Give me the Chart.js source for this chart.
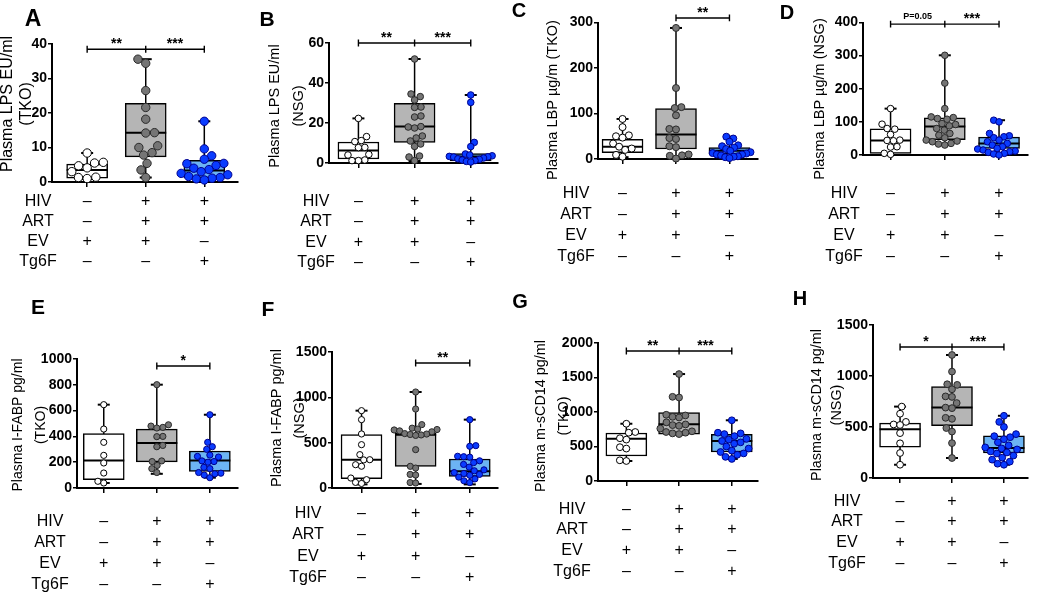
<!DOCTYPE html>
<html><head><meta charset="utf-8">
<script src="https://cdn.jsdelivr.net/npm/chart.js@4.4.1/dist/chart.umd.min.js"></script>
<style>
html,body{margin:0;padding:0;background:#fff;width:1050px;height:593px;overflow:hidden;position:relative}
canvas{position:absolute}
</style></head><body>
<script>
// ---------------- DATA ----------------
const rowLabels = ['HIV', 'ART', 'EV', 'Tg6F'];
const rowSigns = [['–', '+', '+'], ['–', '+', '+'], ['+', '+', '–'], ['–', '–', '+']];

// box rows: [min, q1, median, q3, max] for EV, HIV+ART+EV, HIV+ART+Tg6F
const A_ticks = [0, 10, 20, 30, 40];
const A_title = ['Plasma LPS EU/ml', '(TKO)'];
const A_ev = [8.4, 5.7, 5.5, 4.7, 4.1, 3.0, 1.4, 1.3, 1.0];
const A_hiv = [35.6, 34.4, 26.5, 21.6, 18.2, 14.3, 14.2, 10.5, 10.0, 8.5, 7.8, 5.4, 3.5, 1.3];
const A_tg6f = [17.6, 9.6, 7.6, 6.6, 5.4, 5.3, 4.8, 4.0, 3.6, 3.0, 2.5, 2.1, 1.6, 1.3, 1.1, 0.9, 0.6];
const A_box = [[0.9, 1.1, 3.5, 5.2, 8.4], [1.3, 7.3, 14.3, 22.8, 35.6], [0.6, 1.2, 3.3, 6.3, 17.6]];
const A_sigY = 38.5;
const A_sig = [[1, 2, '**'], [2, 3, '***']];

const B_ticks = [0, 20, 40, 60];
const B_title = ['Plasma LPS EU/ml', '(NSG)'];
const B_ev = [22.3, 13.2, 11.2, 10.7, 7.8, 7.7, 4.3, 4.0, 1.5, 1.2, 1.2];
const B_hiv = [52, 34.5, 33.2, 31.5, 28, 27.8, 23.5, 23, 18.2, 18, 17.5, 13.5, 12.5, 11, 9.5, 8.3, 3.5, 3, 1.2];
const B_tg6f = [34, 30.3, 10.3, 8.2, 4.5, 4.0, 3.6, 3.3, 3.1, 3.0, 2.5, 2.1, 1.8, 1.5, 1.2, 0.8, 0.5];
const B_box = [[0.5, 2.0, 6.2, 10.5, 22.3], [1.0, 10.3, 18.2, 29.8, 52], [0.3, 1.0, 3.2, 4.7, 34]];
const B_sigY = 60;
const B_sig = [[1, 2, '**'], [2, 3, '***']];

const C_ticks = [0, 100, 200, 300];
const C_title = ['Plasma LBP µg/m (TKO)'];
const C_ev = [88, 70, 52, 50, 47, 34, 27, 23, 20, 9, 5];
const C_hiv = [288, 156, 114, 112, 96, 66, 65, 46, 44, 28, 26, 10, 8, 7, 1];
const C_tg6f = [49, 45, 38, 30, 28, 25, 22, 18, 15, 13, 12, 10, 10, 8, 6, 5, 4, 2];
const C_box = [[4, 14, 27, 43, 88], [0, 22, 54, 111, 288], [2, 11, 18, 25, 49]];
const C_sigY = 310;
const C_sig = [[2, 3, '**']];

const D_ticks = [0, 100, 200, 300, 400];
const D_title = ['Plasma LBP µg/m (NSG)'];
const D_ev = [140, 93, 80, 78, 62, 45, 44, 43, 25, 24, 5, 2];
const D_hiv = [301, 217, 140, 115, 113, 110, 108, 95, 92, 88, 80, 75, 65, 60, 52, 45, 42, 40, 35, 33, 30];
const D_tg6f = [105, 100, 65, 58, 55, 52, 45, 40, 35, 30, 25, 20, 18, 15, 12, 10, 8, 5, 3, 0];
const D_box = [[0, 5, 44, 79, 140], [30, 46, 86, 112, 301], [0, 20, 35, 54, 105]];
const D_sigY = 395;
const D_sig = [[1, 2, 'P=0.05'], [2, 3, '***']];

const E_ticks = [0, 200, 400, 600, 800, 1000];
const E_title = ['Plasma I-FABP pg/ml', '(TKO)'];
const E_ev = [646, 457, 354, 253, 194, 116, 52, 39];
const E_hiv = [801, 490, 480, 470, 465, 400, 398, 330, 320, 210, 205, 175, 150, 120];
const E_tg6f = [568, 354, 320, 300, 255, 245, 240, 210, 205, 200, 160, 150, 120, 115, 110, 100, 80];
const E_box = [[39, 65, 214, 421, 646], [110, 202, 349, 457, 801], [80, 129, 214, 287, 568]];
const E_sigY = 946;
const E_sig = [[2, 3, '*']];

const F_ticks = [0, 500, 1000, 1500];
const F_title = ['Plasma I-FABP pg/ml', '(NSG)'];
const F_ev = [853, 754, 596, 478, 368, 312, 310, 257, 240, 110, 92, 62, 50];
const F_hiv = [1059, 871, 699, 660, 650, 645, 640, 630, 620, 600, 595, 590, 585, 580, 423, 239, 220, 150, 143, 60, 55];
const F_tg6f = [754, 467, 460, 350, 345, 340, 300, 280, 260, 230, 200, 190, 170, 160, 150, 140, 120, 100, 80, 60];
const F_box = [[40, 103, 312, 588, 853], [45, 239, 588, 607, 1059], [40, 129, 184, 320, 754]];
const F_sigY = 1379;
const F_sig = [[2, 3, '**']];

const G_ticks = [0, 500, 1000, 1500, 2000];
const G_title = ['Plasma m-sCD14 pg/ml', '(TKO)'];
const G_ev = [830, 710, 700, 620, 600, 490, 470, 300, 290];
const G_hiv = [1550, 1220, 1210, 960, 950, 930, 920, 850, 820, 810, 800, 760, 720, 710, 700, 690, 680];
const G_tg6f = [880, 700, 690, 680, 650, 610, 600, 580, 560, 540, 500, 470, 440, 420, 400, 380, 350, 320];
const G_box = [[290, 362, 614, 696, 830], [670, 680, 821, 990, 1550], [320, 420, 580, 676, 880]];
const G_sigY = 1884;
const G_sig = [[1, 2, '**'], [2, 3, '***']];

const H_ticks = [0, 500, 1000, 1500];
const H_title = ['Plasma m-sCD14 pg/ml', '(NSG)'];
const H_ev = [700, 630, 550, 525, 520, 440, 340, 245, 130];
const H_hiv = [1206, 1043, 919, 913, 870, 800, 795, 735, 690, 685, 590, 580, 490, 455, 342, 196];
const H_tg6f = [610, 550, 500, 430, 410, 400, 380, 350, 320, 300, 290, 280, 260, 250, 240, 220, 200, 180, 160, 140, 130];
const H_box = [[130, 303, 479, 538, 700], [196, 512, 691, 897, 1206], [130, 245, 293, 414, 610]];
const H_sigY = 1284;
const H_sig = [[1, 2, '*'], [2, 3, '***']];

// ---------------- LAYOUT / STYLE ----------------
const FONT = "'Liberation Sans', Arial, Helvetica, sans-serif";
const PT_FILL = ['#ffffff', '#757575', '#0a3cff'];
const PT_EDGE = ['#000000', '#2a2a2a', '#00008c'];
const BOX_FILL = ['#ffffff', '#b5b5b5', '#6cb4f4'];
const BOXW = 41;
const SWARM_MAX = 24;

const LAYOUT = {
  A: {x0: 0, y0: 0, w: 260, h: 290, axisX: 52, xEnd: 242, yTop: 44, yBot: 182, g1: 88, g3: 208, tx: [8, 27], ty: 104, tfs: 16, rowY: 200, rowDy: 20, labelX: 38, letter: [33, 18, 23], r: 4.2},
  B: {x0: 260, y0: 0, w: 260, h: 290, axisX: 329, xEnd: 518, yTop: 43, yBot: 163, g1: 362, g3: 488, tx: [275, 299], ty: 106, tfs: 14.5, rowY: 200, rowDy: 20.5, labelX: 316, letter: [267, 18, 21], r: 3.3},
  C: {x0: 505, y0: 0, w: 275, h: 290, axisX: 598, xEnd: 780, yTop: 19, yBot: 159, g1: 626, g3: 748, tx: [553], ty: 100, tfs: 14.5, rowY: 192, rowDy: 21, labelX: 576, letter: [519, 10, 20], r: 3.5},
  D: {x0: 780, y0: 0, w: 270, h: 290, axisX: 863, xEnd: 1048, yTop: 20, yBot: 155, g1: 894, g3: 1016, tx: [820], ty: 99, tfs: 14.5, rowY: 192, rowDy: 21, labelX: 844, letter: [787, 12, 20], r: 3.3},
  E: {x0: 0, y0: 290, w: 260, h: 303, axisX: 77, xEnd: 257, yTop: 359, yBot: 488, g1: 107, g3: 226, tx: [18, 41], ty: 425, tfs: 14, rowY: 520, rowDy: 21, labelX: 50, letter: [38, 306, 21], r: 3.1},
  F: {x0: 260, y0: 290, w: 260, h: 303, axisX: 332, xEnd: 517, yTop: 352, yBot: 488, g1: 365, g3: 486, tx: [277, 300], ty: 418, tfs: 14.5, rowY: 512, rowDy: 21.5, labelX: 308, letter: [268, 308, 21], r: 3.1},
  G: {x0: 505, y0: 290, w: 275, h: 303, axisX: 598, xEnd: 778, yTop: 343, yBot: 481, g1: 630, g3: 749, tx: [541, 564], ty: 416, tfs: 14.4, rowY: 508, rowDy: 20.7, labelX: 572, letter: [520, 301, 20], r: 3.4},
  H: {x0: 780, y0: 290, w: 270, h: 303, axisX: 873, xEnd: 1050, yTop: 325, yBot: 478, g1: 904, g3: 1023, tx: [817, 837], ty: 405, tfs: 14.4, rowY: 500, rowDy: 20.7, labelX: 847, letter: [800, 298, 20], r: 3.4}
};

const panels = [
  {key: 'A', ticks: A_ticks, title: A_title, points: [A_ev, A_hiv, A_tg6f], box: A_box, sigY: A_sigY, sig: A_sig},
  {key: 'B', ticks: B_ticks, title: B_title, points: [B_ev, B_hiv, B_tg6f], box: B_box, sigY: B_sigY, sig: B_sig},
  {key: 'C', ticks: C_ticks, title: C_title, points: [C_ev, C_hiv, C_tg6f], box: C_box, sigY: C_sigY, sig: C_sig},
  {key: 'D', ticks: D_ticks, title: D_title, points: [D_ev, D_hiv, D_tg6f], box: D_box, sigY: D_sigY, sig: D_sig},
  {key: 'E', ticks: E_ticks, title: E_title, points: [E_ev, E_hiv, E_tg6f], box: E_box, sigY: E_sigY, sig: E_sig},
  {key: 'F', ticks: F_ticks, title: F_title, points: [F_ev, F_hiv, F_tg6f], box: F_box, sigY: F_sigY, sig: F_sig},
  {key: 'G', ticks: G_ticks, title: G_title, points: [G_ev, G_hiv, G_tg6f], box: G_box, sigY: G_sigY, sig: G_sig},
  {key: 'H', ticks: H_ticks, title: H_title, points: [H_ev, H_hiv, H_tg6f], box: H_box, sigY: H_sigY, sig: H_sig}
];

// beeswarm: horizontal pixel offsets so that dots do not overlap
function swarmOffsets(vals, pyPerUnit, diam) {
  const idx = vals.map((v, i) => i).sort((a, b) => vals[a] - vals[b]);
  const placed = [];
  const out = new Array(vals.length).fill(0);
  let flip = 1;
  for (const i of idx) {
    const y = vals[i] * pyPerUnit;
    const ivs = [];
    for (const p of placed) {
      const dy = Math.abs(p.y - y);
      if (dy < diam) { const hw = Math.sqrt(diam * diam - dy * dy); ivs.push([p.x - hw, p.x + hw]); }
    }
    const cands = [0];
    ivs.forEach(iv => cands.push(iv[0], iv[1]));
    const ok = c => ivs.every(iv => c <= iv[0] + 1e-6 || c >= iv[1] - 1e-6);
    let best = null;
    for (const c of cands) {
      if (!ok(c)) continue;
      if (best === null || Math.abs(c) < Math.abs(best) - 1e-6 ||
          (Math.abs(Math.abs(c) - Math.abs(best)) < 1e-6 && c * flip > 0)) best = c;
    }
    flip = -flip;
    out[i] = best;
    placed.push({x: best, y});
  }
  const m = Math.max(...out.map(Math.abs));
  if (m > SWARM_MAX) return out.map(o => o * SWARM_MAX / m);
  return out;
}

function makePanel(p) {
  const L = LAYOUT[p.key];
  const s = (L.g3 - L.g1) / 2;
  const xmin = 1 - (L.g1 - L.axisX) / s;
  const xmax = 3 + (L.xEnd - L.g3) / s;
  const ymax = p.ticks[p.ticks.length - 1];
  const pyu = (L.yBot - L.yTop) / ymax;

  const canvas = document.createElement('canvas');
  canvas.width = L.w; canvas.height = L.h;
  canvas.style.left = L.x0 + 'px'; canvas.style.top = L.y0 + 'px';
  canvas.style.width = L.w + 'px'; canvas.style.height = L.h + 'px';
  document.body.appendChild(canvas);

  const datasets = [];
  p.points.forEach((vals, g) => {
    const off = swarmOffsets(vals, pyu, 2 * L.r + 0.6);
    datasets.push({
      type: 'scatter', data: vals.map((v, i) => ({x: g + 1 + off[i] / s, y: v})),
      pointRadius: L.r, pointBackgroundColor: PT_FILL[g], pointBorderColor: PT_EDGE[g],
      pointBorderWidth: 1, order: 1, clip: false
    });
  });
  datasets.push({
    type: 'scatter', data: p.box.map((b, g) => ({x: g + 1, y: b[2]})),
    pointStyle: 'line', pointRadius: BOXW / 2, pointBorderColor: '#000', pointBorderWidth: 2,
    order: 2, clip: false
  });
  datasets.push({
    type: 'bar', data: p.box.map((b, g) => ({x: g + 1, y: [b[1], b[3]]})),
    backgroundColor: BOX_FILL, borderColor: '#000', borderWidth: 1.5, borderSkipped: false,
    barThickness: BOXW, order: 3, clip: false
  });
  p.box.forEach((b, g) => {
    datasets.push({
      type: 'line', data: [{x: g + 1, y: b[0]}, {x: g + 1, y: b[4]}],
      borderColor: '#000', borderWidth: 1.5, pointStyle: 'line', pointRadius: 6,
      pointBorderColor: '#000', pointBorderWidth: 2, order: 4, clip: false
    });
  });
  // significance bracket with crossing end / middle ticks
  const d = 3.5 / pyu;
  const xs0 = Math.min(...p.sig.map(q => q[0])), xs1 = Math.max(...p.sig.map(q => q[1]));
  const br = [];
  for (let x = xs0; x <= xs1; x++) {
    br.push({x, y: p.sigY}, {x, y: p.sigY + d}, {x, y: p.sigY - d}, {x, y: p.sigY});
  }
  datasets.push({
    type: 'line', data: br, borderColor: '#000', borderWidth: 1.4, pointRadius: 0,
    order: 0, clip: false
  });

  const annot = {
    id: 'annot' + p.key,
    afterDatasetsDraw(chart) {
      const ctx = chart.ctx;
      const xsc = chart.scales.x, ysc = chart.scales.y;
      ctx.save();
      ctx.fillStyle = '#000';
      // panel letter
      ctx.font = 'bold ' + L.letter[2] + 'px ' + FONT;
      ctx.textAlign = 'center'; ctx.textBaseline = 'alphabetic';
      ctx.fillText(p.key, L.letter[0] - L.x0, L.letter[1] - L.y0 + 0.358 * L.letter[2]);
      // y title
      ctx.font = L.tfs + 'px ' + FONT;
      p.title.forEach((line, i) => {
        ctx.save();
        ctx.translate(L.tx[i] - L.x0, L.ty - L.y0);
        ctx.rotate(-Math.PI / 2);
        ctx.textAlign = 'center'; ctx.textBaseline = 'alphabetic';
        ctx.fillText(line, 0, 0.253 * L.tfs);
        ctx.restore();
      });
      // significance labels
      const ly = ysc.getPixelForValue(p.sigY);
      p.sig.forEach(q => {
        const cx = (xsc.getPixelForValue(q[0]) + xsc.getPixelForValue(q[1])) / 2;
        ctx.textAlign = 'center'; ctx.textBaseline = 'alphabetic';
        if (q[2].startsWith('P')) {
          ctx.font = 'bold 9px ' + FONT;
          ctx.fillText(q[2], cx, ly - 5);
        } else {
          ctx.font = 'bold 14px ' + FONT;
          ctx.fillText(q[2], cx, ly - 1);
        }
      });
      // condition table
      ctx.font = '16px ' + FONT;
      ctx.textAlign = 'center'; ctx.textBaseline = 'alphabetic';
      rowLabels.forEach((lab, r) => {
        const y = L.rowY + r * L.rowDy - L.y0 + 5.7;
        ctx.fillText(lab, L.labelX - L.x0, y);
        rowSigns[r].forEach((sg, g) => ctx.fillText(sg, xsc.getPixelForValue(g + 1), y));
      });
      ctx.restore();
    }
  };

  new Chart(canvas, {
    type: 'bar',
    data: {datasets},
    options: {
      responsive: false, animation: false, events: [],
      layout: {padding: {left: 0, top: L.yTop - L.y0, right: L.x0 + L.w - L.xEnd, bottom: L.y0 + L.h - L.yBot}},
      plugins: {legend: {display: false}, tooltip: {enabled: false}},
      scales: {
        x: {
          type: 'linear', min: xmin, max: xmax, offset: false,
          afterBuildTicks: sc => { sc.ticks = [1, 2, 3].map(v => ({value: v})); },
          afterFit: sc => { sc.height = 0; },
          ticks: {display: false},
          grid: {display: true, offset: false, drawOnChartArea: false, drawTicks: true, tickLength: 5, color: '#000', lineWidth: 1.5},
          border: {display: true, color: '#000', width: 2}
        },
        y: {
          type: 'linear', min: 0, max: ymax,
          afterBuildTicks: sc => { sc.ticks = p.ticks.map(v => ({value: v})); },
          afterFit: sc => { sc.width = L.axisX - L.x0; },
          ticks: {color: '#000', padding: 1, font: {family: FONT, weight: 'bold', size: 14}, callback: v => String(v)},
          grid: {display: true, drawOnChartArea: false, drawTicks: true, tickLength: 4, color: '#000', lineWidth: 1.5},
          border: {display: true, color: '#000', width: 2}
        }
      }
    },
    plugins: [annot]
  });
}

panels.forEach(makePanel);
</script>
</body></html>
